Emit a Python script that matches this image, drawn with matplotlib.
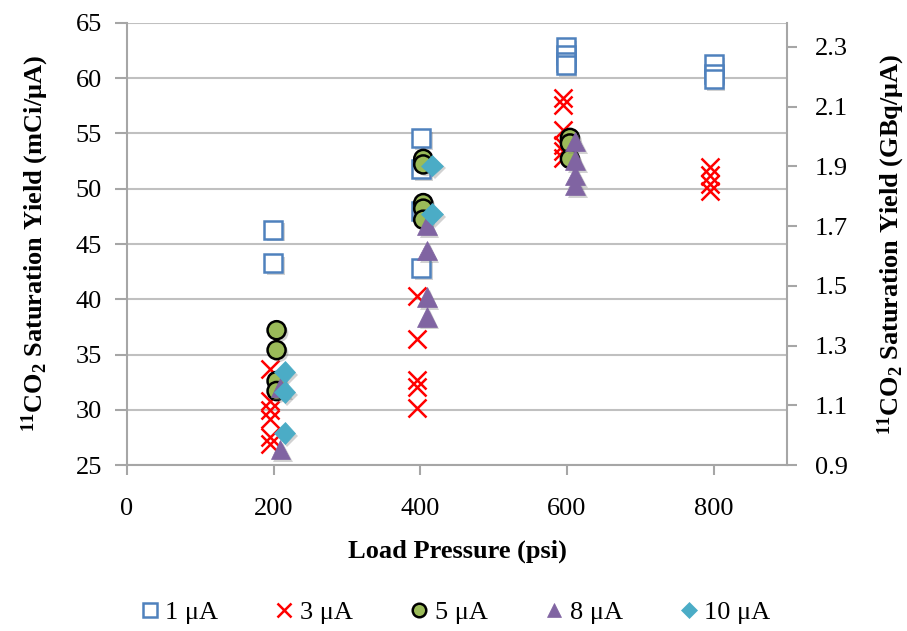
import matplotlib.pyplot as plt
import matplotlib.patheffects as pe

plt.rcParams['font.family'] = ['Liberation Serif', 'DejaVu Serif']
plt.rcParams['mathtext.default'] = 'regular'

# load pressure (psi) and saturation yield (mCi/uA) per beam current
x_1uA = [199, 199, 401, 401, 401, 401, 598, 598, 598, 598, 800, 800, 800]
y_1uA = [46.3, 43.3, 54.6, 51.8, 48.0, 42.8, 62.8, 62.1, 61.5, 61.2, 61.3, 60.4, 59.9]

x_3uA = [195] * 6 + [395] * 5 + [595] * 6 + [795] * 4
y_3uA = [33.7, 30.8, 30.0, 29.2, 27.5, 26.9,
         40.3, 36.4, 32.7, 32.1, 30.2,
         58.2, 57.6, 55.3, 54.0, 53.4, 52.8,
         52.0, 51.2, 50.4, 49.8]

x_5uA = [204] * 4 + [404] * 5 + [604] * 3
y_5uA = [37.2, 35.4, 32.6, 31.7, 52.7, 52.2, 48.7, 48.2, 47.2, 54.6, 54.1, 52.7]

x_8uA = [209] * 2 + [409] * 4 + [611] * 4
y_8uA = [32.0, 26.4, 46.7, 44.4, 40.2, 38.4, 54.3, 52.6, 51.2, 50.3]

x_10uA = [215] * 3 + [416] * 2
y_10uA = [33.4, 31.6, 27.9, 52.1, 47.7]

labels = ['1 μA', '3 μA', '5 μA', '8 μA', '10 μA']
x_ticks = [0, 200, 400, 600, 800]
left_ticks = [25, 30, 35, 40, 45, 50, 55, 60, 65]
right_ticks = [0.9, 1.1, 1.3, 1.5, 1.7, 1.9, 2.1, 2.3]
GBQ_PER_MCI = 0.037

grey = '#a6a6a6'
fs = 19
shadow = [pe.SimplePatchShadow(offset=(2, -2), shadow_rgbFace='#808080', alpha=0.35), pe.Normal()]

fig = plt.figure(figsize=(9.07, 6.31), dpi=100)
ax = fig.add_axes([0.140, 0.263, 0.7277, 0.7006])

styles = [
    dict(marker='s', ms=13, mfc='white', mec='#4f81bd', mew=1.8),
    dict(marker='x', ms=13, mec='#ff0000', mew=1.8),
    dict(marker='o', ms=13, mfc='#9bbb59', mec='black', mew=1.8),
    dict(marker='^', ms=14, mfc='#8064a2', mec='#8064a2', mew=0.5),
    dict(marker='D', ms=11, mfc='#4bacc6', mec='#4bacc6', mew=0.5),
]
series = [(x_1uA, y_1uA), (x_3uA, y_3uA), (x_5uA, y_5uA), (x_8uA, y_8uA), (x_10uA, y_10uA)]
for (xs, ys), st, lab in zip(series, styles, labels):
    ax.plot(xs, ys, ls='none', label=lab, path_effects=shadow, zorder=3, **st)

ax.set_xlim(0, 900)
ax.set_ylim(25, 65)
ax.set_xticks(x_ticks)
ax.set_yticks(left_ticks)
ax.grid(axis='y', color='#c0c0c0', lw=1.5)
ax.set_axisbelow(True)
for s in ['top', 'right']:
    ax.spines[s].set_visible(False)
for s in ['left', 'bottom']:
    ax.spines[s].set_color(grey)
    ax.spines[s].set_linewidth(1.5)
ax.tick_params(axis='x', colors=grey, labelcolor='black', labelsize=fs, length=7, width=1.5, pad=17)
ax.tick_params(axis='y', colors=grey, labelcolor='black', labelsize=fs, length=9, width=1.5, pad=9)
ax.set_xlabel('Load Pressure (psi)', fontsize=fs, fontweight='bold', labelpad=14)
ax.set_ylabel(r'$^{11}$CO$_2$ Saturation Yield (mCi/μA)', fontsize=fs, fontweight='bold', labelpad=18)

ax2 = ax.twinx()
ax2.set_ylim(0.9, 0.9 + 40 * GBQ_PER_MCI)
ax2.set_yticks(right_ticks)
ax2.set_yticklabels([f'{t:.1f}' for t in right_ticks])
for s in ['top', 'left', 'bottom']:
    ax2.spines[s].set_visible(False)
ax2.spines['right'].set_color(grey)
ax2.spines['right'].set_linewidth(1.5)
ax2.tick_params(axis='y', colors=grey, labelcolor='black', labelsize=fs, length=7, width=1.5, pad=13)
ax2.set_ylabel(r'$^{11}$CO$_2$ Saturation Yield (GBq/μA)', fontsize=fs, fontweight='bold', labelpad=20)

leg_styles = [dict(st, ms=st['ms'] * 0.75) for st in styles]
leg_handles = [plt.Line2D([], [], ls='none', **st) for st in leg_styles]
fig.legend(leg_handles, labels, loc='center', bbox_to_anchor=(0.5, 0.03), ncol=5,
           frameon=False, fontsize=fs, handletextpad=0.1, columnspacing=2.0, handlelength=1.0)

fig.savefig('out.png', dpi=100)
